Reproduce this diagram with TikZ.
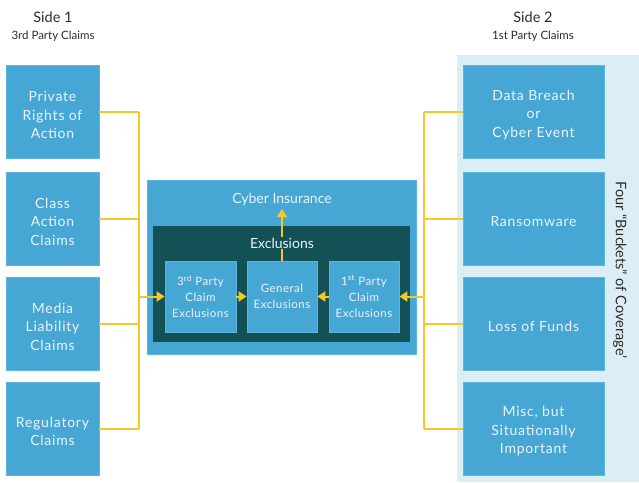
\documentclass[tikz,border=0pt]{standalone}
\usepackage{fontspec}
\setmainfont{Lato}
\newfontfamily\spacedfont[LetterSpace=5.5]{Lato}
\newfontfamily\lightspaced[LetterSpace=4]{Lato}
\usetikzlibrary{arrows.meta}
\definecolor{boxblue}{HTML}{47A7D4}
\definecolor{boxedge}{HTML}{5DB6DE}
\definecolor{darkteal}{HTML}{135157}
\definecolor{panel}{HTML}{DCEEF5}
\definecolor{gold}{HTML}{F3C92A}
\definecolor{boxtext}{HTML}{EAF5FB}
\definecolor{labeltext}{HTML}{2B2B2B}
\tikzset{
  boxlbl/.style={text=boxtext, align=center, inner sep=0pt, font=\spacedfont\fontsize{14}{18.5}\selectfont},
  plainbox/.style={rectangle, fill=boxblue, draw=boxedge, line width=0.8pt, inner sep=0pt},
  sidebox/.style={plainbox, minimum width=93, minimum height=93, label={[boxlbl, yshift=-3pt]center:#1}},
  rightbox/.style={plainbox, minimum width=141, minimum height=93, label={[boxlbl, yshift=-3pt]center:#1}},
  innerbox/.style={plainbox, minimum width=71, minimum height=71, text=boxtext, align=center,
    font=\lightspaced\fontsize{11.5}{16}\selectfont},
  conn/.style={draw=gold, line width=2pt},
  arr/.style={conn, -{Triangle[length=8pt,width=10pt]}},
  sidetitle/.style={text=labeltext, font=\fontsize{14.5}{16}\selectfont},
  sidesub/.style={text=labeltext, font=\fontsize{11.5}{13}\selectfont},
}
\begin{document}
\begin{tikzpicture}[x=1pt,y=-1pt]
\useasboundingbox (0,0) rectangle (639,482);
% right panel
\fill[panel] (457,55) rectangle (639,482);
% titles
\node[sidetitle] (s1) at (53,17) {Side 1};
\node[sidesub] (s1b) at (53,36) {3rd Party Claims};
\node[sidetitle] (s2) at (533,17) {Side 2};
\node[sidesub] (s2b) at (533,36) {1st Party Claims};
% left boxes
\node[sidebox={Private\\Rights of\\Action}] (L1) at (52.5,112) {};
\node[sidebox={Class\\Action\\Claims}] (L2) at (52.5,218.5) {};
\node[sidebox={Media\\Liability\\Claims}] (L3) at (52.5,323.5) {};
\node[sidebox={Regulatory\\Claims}] (L4) at (52.5,428.5) {};
% right boxes
\node[rightbox={Data Breach\\or\\Cyber Event}] (R1) at (533.5,112) {};
\node[rightbox={Ransomware}] (R2) at (533.5,218.5) {};
\node[rightbox={Loss of Funds}] (R3) at (533.5,323.5) {};
\node[rightbox={Misc, but\\Situationally\\Important}] (R4) at (533.5,428.5) {};
% rotated label
\node[rotate=-90, text=labeltext, font=\fontsize{14.5}{16}\selectfont] (bk) at (620,270) {Four ``Buckets'' of Coverage’};
% central boxes
\node[plainbox, minimum width=269, minimum height=174] (CI) at (281.5,267) {};
\node[text=boxtext, font=\fontsize{14}{16}\selectfont] (cit) at (282,200) {Cyber Insurance};
\node[rectangle, fill=darkteal, minimum width=257, minimum height=116, inner sep=0pt] (EX) at (281.5,284) {};
\node[innerbox] (A) at (200.5,296.5) {3\textsuperscript{rd} Party\\Claim\\Exclusions};
\node[innerbox, minimum width=70] (B) at (282,296.5) {General\\Exclusions};
\node[innerbox, minimum width=70] (C) at (364,296.5) {1\textsuperscript{st} Party\\Claim\\Exclusions};
\coordinate (up) at (282,209);
\draw[arr] (B.north) -- (up);
\node[fill=darkteal, text=boxtext, font=\fontsize{14}{16}\selectfont, inner sep=1pt] (ext) at (282,243) {Exclusions};
% inner arrows
\draw[arr] (A.east) -- (B.west);
\draw[arr] (C.west) -- (B.east);
% left bus
\coordinate (lb) at (139,296.5);
\draw[conn] (L1.east) -- (L1.east -| lb);
\draw[conn] (L2.east) -- (L2.east -| lb);
\draw[conn] (L3.east) -- (L3.east -| lb);
\draw[conn] (L4.east) -- (L4.east -| lb);
\draw[conn] (L1.east -| lb) -- (L4.east -| lb);
\draw[arr] (lb) -- (A.west);
% right bus
\coordinate (rb) at (424,296.5);
\draw[conn] (R1.west) -- (R1.west -| rb);
\draw[conn] (R2.west) -- (R2.west -| rb);
\draw[conn] (R3.west) -- (R3.west -| rb);
\draw[conn] (R4.west) -- (R4.west -| rb);
\draw[conn] (R1.west -| rb) -- (R4.west -| rb);
\draw[arr] (rb) -- (C.east);
\end{tikzpicture}
\end{document}
